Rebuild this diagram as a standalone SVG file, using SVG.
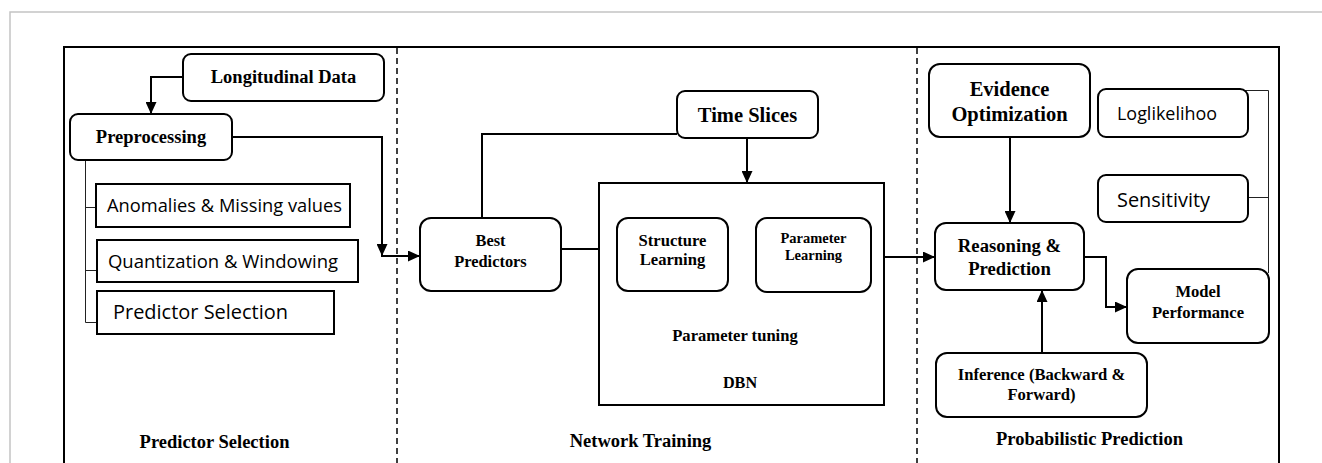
<svg xmlns="http://www.w3.org/2000/svg" width="1322" height="463" viewBox="0 0 1322 463">
  <style>
    .box { fill: #fff; stroke: #000; stroke-width: 2; }
    .frame { fill: none; stroke: #000; stroke-width: 2; }
    .page { fill: none; stroke: #c4c4c4; stroke-width: 1.5; }
    .divider { stroke: #000; stroke-width: 1.5; stroke-dasharray: 6 4; }
    .wire { fill: none; stroke: #000; stroke-width: 2; }
    .thin { fill: none; stroke: #222; stroke-width: 1; }
    .serif { font-family: "Liberation Serif", "Times New Roman", serif; font-weight: bold; fill: #000; text-anchor: middle; }
    .sans { font-family: "Open Sans", "Liberation Sans", sans-serif; fill: #000; }
  </style>
  <defs>
    <marker id="arrow" markerUnits="userSpaceOnUse" markerWidth="12" markerHeight="11" refX="12" refY="5.5" orient="auto">
      <path d="M0,0 L12,5.5 L0,11 z" fill="#000"/>
    </marker>
  </defs>

  <rect width="1322" height="463" fill="#fff"/>

  <!-- page border and panel frame -->
  <path class="page" d="M10,463 V12 H1322"/>
  <path class="frame" d="M64,463 V47 H1279 V463"/>
  <line class="divider" x1="397" y1="48" x2="397" y2="463"/>
  <line class="divider" x1="917" y1="48" x2="917" y2="463"/>

  <!-- section titles -->
  <text class="serif" x="214.5" y="448" font-size="18.5">Predictor Selection</text>
  <text class="serif" x="640.5" y="447" font-size="18.5">Network Training</text>
  <text class="serif" x="1089.5" y="445" font-size="18.5">Probabilistic Prediction</text>

  <!-- connectors -->
  <g id="connectors">
    <polyline class="wire" points="183,77 151,77 151,114" marker-end="url(#arrow)"/>
    <polyline class="wire" points="232,137 382,137 382,256" marker-end="url(#arrow)"/>
    <line class="wire" x1="381" y1="256" x2="420" y2="256" marker-end="url(#arrow)"/>
    <polyline class="thin" points="85.5,160 85.5,322.5 97,322.5"/>
    <line class="thin" x1="85.5" y1="207.5" x2="96" y2="207.5"/>
    <line class="thin" x1="85.5" y1="270.5" x2="97" y2="270.5"/>
    <polyline class="wire" points="482,218 482,134 677,134"/>
    <line class="wire" x1="747" y1="138" x2="747" y2="183" marker-end="url(#arrow)"/>
    <line class="wire" x1="561" y1="249" x2="617" y2="249" marker-end="url(#arrow)"/>
    <line class="wire" x1="728" y1="249" x2="756" y2="249" stroke="#555" stroke-width="1.5" marker-end="url(#arrow)"/>
    <line class="wire" x1="884" y1="257" x2="935" y2="257" marker-end="url(#arrow)"/>
    <line class="wire" x1="1010" y1="137" x2="1010" y2="223" marker-end="url(#arrow)"/>
    <line class="wire" x1="1042" y1="353" x2="1042" y2="290" marker-end="url(#arrow)"/>
    <polyline class="wire" points="1084,257 1106,257 1106,307 1127,307" marker-end="url(#arrow)"/>
    <polyline class="thin" points="1240,90.5 1268.5,90.5 1268.5,273"/>
    <line class="thin" x1="1248" y1="197.5" x2="1268.5" y2="197.5"/>
  </g>

  <g id="longitudinal-data">
    <rect class="box" x="183" y="54" width="201" height="47" rx="8"/>
    <text class="serif" x="283.5" y="83" font-size="18.5">Longitudinal Data</text>
  </g>

  <g id="preprocessing">
    <rect class="box" x="70" y="114" width="162" height="46" rx="8"/>
    <text class="serif" x="151" y="143" font-size="18.5">Preprocessing</text>
  </g>

  <g id="anomalies">
    <rect class="box" x="96" y="184" width="254" height="43"/>
    <text class="sans" x="107" y="212" font-size="18.5" textLength="235" lengthAdjust="spacingAndGlyphs">Anomalies &amp; Missing values</text>
  </g>

  <g id="quantization">
    <rect class="box" x="97" y="240" width="261" height="42"/>
    <text class="sans" x="108" y="268" font-size="19" textLength="230" lengthAdjust="spacingAndGlyphs">Quantization &amp; Windowing</text>
  </g>

  <g id="predictor-selection">
    <rect class="box" x="97" y="291" width="237" height="43"/>
    <text class="sans" x="113" y="319" font-size="19.5" textLength="175" lengthAdjust="spacingAndGlyphs">Predictor Selection</text>
  </g>

  <g id="best-predictors">
    <rect class="box" x="420" y="218" width="141" height="73" rx="11"/>
    <text class="serif" x="490.5" y="246" font-size="16.4">Best</text>
    <text class="serif" x="490.5" y="267" font-size="16.4">Predictors</text>
  </g>

  <g id="time-slices">
    <rect class="box" x="677" y="91" width="141" height="47" rx="8"/>
    <text class="serif" x="747.5" y="122" font-size="20.5">Time Slices</text>
  </g>

  <g id="dbn">
    <rect class="box" x="599" y="183" width="285" height="222"/>
    <text class="serif" x="735" y="341" font-size="16.6">Parameter tuning</text>
    <text class="serif" x="740" y="388" font-size="16.2">DBN</text>
  </g>

  <g id="structure-learning">
    <rect class="box" x="617" y="218" width="111" height="73" rx="11"/>
    <text class="serif" x="672.5" y="246" font-size="16.6">Structure</text>
    <text class="serif" x="672.5" y="265" font-size="16.6">Learning</text>
  </g>

  <g id="parameter-learning">
    <rect class="box" x="756" y="218" width="115" height="74" rx="11"/>
    <text class="serif" x="813.5" y="243" font-size="14.5">Parameter</text>
    <text class="serif" x="813.5" y="260" font-size="14.5">Learning</text>
  </g>

  <g id="evidence-optimization">
    <rect class="box" x="929" y="64" width="161" height="73" rx="11"/>
    <text class="serif" x="1009.5" y="96" font-size="20.5">Evidence</text>
    <text class="serif" x="1009.5" y="121" font-size="20.5">Optimization</text>
  </g>

  <g id="loglikelihoo">
    <rect class="box" x="1098" y="89" width="150" height="48" rx="8"/>
    <text class="sans" x="1117" y="120" font-size="18.5" textLength="100" lengthAdjust="spacingAndGlyphs">Loglikelihoo</text>
  </g>

  <g id="sensitivity">
    <rect class="box" x="1098" y="175" width="150" height="47" rx="8"/>
    <text class="sans" x="1117" y="207" font-size="19.5" textLength="93" lengthAdjust="spacingAndGlyphs">Sensitivity</text>
  </g>

  <g id="reasoning-prediction">
    <rect class="box" x="935" y="223" width="149" height="67" rx="11"/>
    <text class="serif" x="1009.5" y="252" font-size="18.7">Reasoning &amp;</text>
    <text class="serif" x="1009.5" y="275" font-size="18.7">Prediction</text>
  </g>

  <g id="model-performance">
    <rect class="box" x="1127" y="269" width="142" height="74" rx="11"/>
    <text class="serif" x="1198" y="297" font-size="16.6">Model</text>
    <text class="serif" x="1198" y="318" font-size="16.6">Performance</text>
  </g>

  <g id="inference">
    <rect class="box" x="936" y="353" width="211" height="64" rx="11"/>
    <text class="serif" x="1041.5" y="380" font-size="16.6">Inference (Backward &amp;</text>
    <text class="serif" x="1041.5" y="400" font-size="16.6">Forward)</text>
  </g>
</svg>
